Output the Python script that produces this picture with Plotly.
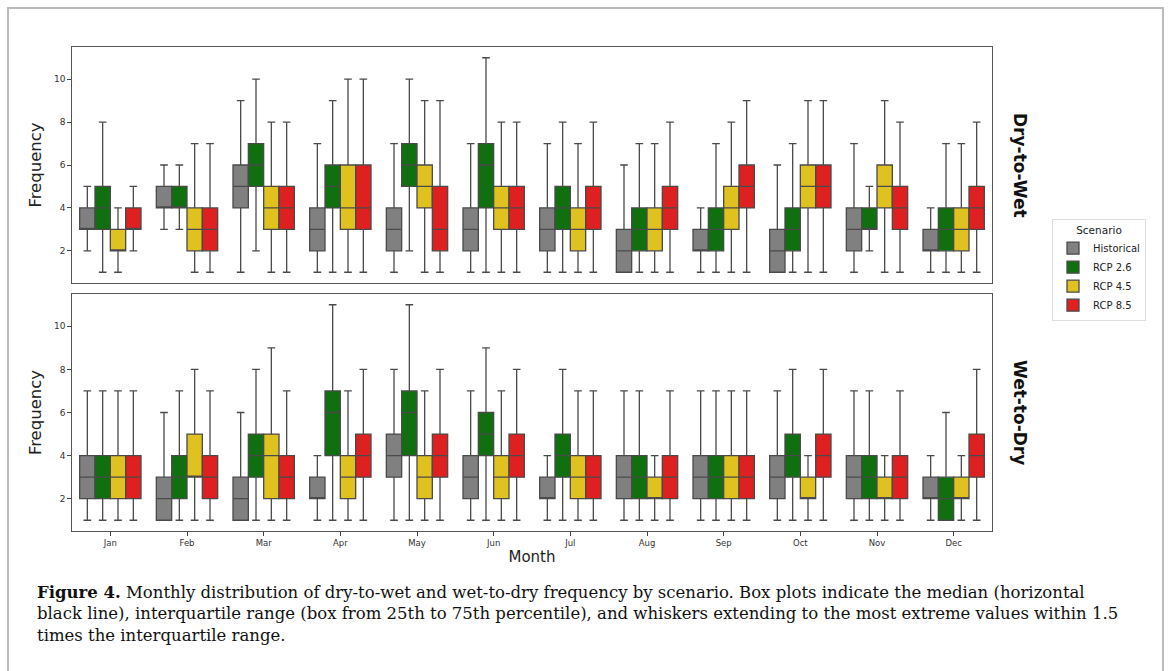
import plotly.graph_objects as go
from plotly.subplots import make_subplots

months = ["Jan", "Feb", "Mar", "Apr", "May", "Jun", "Jul", "Aug", "Sep", "Oct", "Nov", "Dec"]
scenarios = ["Historical", "RCP 2.6", "RCP 4.5", "RCP 8.5"]
colors = ["#808080", "#107010", "#dfc120", "#df2020"]

# five-number summaries per month: (lower whisker, q1, median, q3, upper whisker)
dw_historical = [(2,3,3,4,5),(3,4,4,5,6),(1,4,5,6,9),(1,2,3,4,7),(1,2,3,4,7),(1,2,3,4,7),
                 (1,2,3,4,7),(1,1,2,3,6),(1,2,2,3,4),(1,1,2,3,6),(1,2,3,4,7),(1,2,2,3,4)]
dw_rcp26 = [(1,3,4,5,8),(3,4,4,5,6),(2,5,6,7,10),(1,4,5,6,9),(2,5,6,7,10),(1,4,6,7,11),
            (1,3,4,5,8),(1,2,3,4,7),(1,2,3,4,7),(1,2,3,4,7),(2,3,3,4,5),(1,2,3,4,7)]
dw_rcp45 = [(1,2,2,3,4),(1,2,3,4,7),(1,3,4,5,8),(1,3,4,6,10),(1,4,5,6,9),(1,3,4,5,8),
            (1,2,3,4,7),(1,2,3,4,7),(1,3,4,5,8),(1,4,5,6,9),(1,4,5,6,9),(1,2,3,4,7)]
dw_rcp85 = [(2,3,3,4,5),(1,2,3,4,7),(1,3,4,5,8),(1,3,4,6,10),(1,2,3,5,9),(1,3,4,5,8),
            (1,3,4,5,8),(1,3,4,5,8),(1,4,5,6,9),(1,4,5,6,9),(1,3,4,5,8),(1,3,4,5,8)]

wd_historical = [(1,2,3,4,7),(1,1,2,3,6),(1,1,2,3,6),(1,2,2,3,4),(1,3,4,5,8),(1,2,3,4,7),
                 (1,2,2,3,4),(1,2,3,4,7),(1,2,3,4,7),(1,2,3,4,7),(1,2,3,4,7),(1,2,2,3,4)]
wd_rcp26 = [(1,2,3,4,7),(1,2,3,4,7),(1,3,4,5,8),(1,4,6,7,11),(1,4,6,7,11),(1,4,5,6,9),
            (1,3,4,5,8),(1,2,3,4,7),(1,2,3,4,7),(1,3,4,5,8),(1,2,3,4,7),(1,1,2,3,6)]
wd_rcp45 = [(1,2,3,4,7),(1,3,3,5,8),(1,2,4,5,9),(1,2,3,4,7),(1,2,3,4,7),(1,2,3,4,7),
            (1,2,3,4,7),(1,2,2,3,4),(1,2,3,4,7),(1,2,2,3,4),(1,2,2,3,4),(1,2,2,3,4)]
wd_rcp85 = [(1,2,3,4,7),(1,2,3,4,7),(1,2,3,4,7),(1,3,4,5,8),(1,3,4,5,8),(1,3,4,5,8),
            (1,2,3,4,7),(1,2,3,4,7),(1,2,3,4,7),(1,3,4,5,8),(1,2,3,4,7),(1,3,4,5,8)]

panel_labels = ["Dry-to-Wet", "Wet-to-Dry"]
y_ticks = [2, 4, 6, 8, 10]
caption_lines = [
    "<b>Figure 4.</b> Monthly distribution of dry-to-wet and wet-to-dry frequency by scenario. Box plots indicate the median (horizontal",
    "black line), interquartile range (box from 25th to 75th percentile), and whiskers extending to the most extreme values within 1.5",
    "times the interquartile range.",
]

panels = [[dw_historical, dw_rcp26, dw_rcp45, dw_rcp85],
          [wd_historical, wd_rcp26, wd_rcp45, wd_rcp85]]

W, H = 1168, 671
L, R, T, B = 72, 992, 47, 531
fig = make_subplots(rows=2, cols=1, shared_xaxes=False, vertical_spacing=0.0)

for p, data in enumerate(panels):
    for s, (name, col, stats) in enumerate(zip(scenarios, colors, data)):
        fig.add_trace(go.Box(
            x=months,
            lowerfence=[v[0] for v in stats],
            q1=[v[1] for v in stats],
            median=[v[2] for v in stats],
            q3=[v[3] for v in stats],
            upperfence=[v[4] for v in stats],
            name=name, legendgroup=name, showlegend=(p == 0),
            alignmentgroup="panel%d" % p, offsetgroup=name,
            fillcolor=col, line=dict(color="#4a4a4a", width=1.3),
            boxpoints=False, whiskerwidth=0.5,
        ), row=p + 1, col=1)

def py(v):
    return (B - v) / (B - T)

def px(v):
    return (v - L) / (R - L)

fig.update_layout(
    width=W, height=H,
    margin=dict(l=L, r=W - R, t=T, b=H - B),
    paper_bgcolor="white", plot_bgcolor="white",
    boxmode="group", boxgap=0.2, boxgroupgap=0,
    font=dict(family="DejaVu Sans", color="#222"),
    legend=dict(
        title=dict(text="Scenario", side="top center", font=dict(size=10.5, color="#222")),
        x=px(1052), y=py(219), xanchor="left", yanchor="top",
        bgcolor="white", bordercolor="#dddddd", borderwidth=1,
        font=dict(size=10, color="#222"), tracegroupgap=0, itemwidth=30,
    ),
)

top_dom = [py(283), 1.0]
bot_dom = [0.0, py(294)]
fig.update_yaxes(range=[0.5, 11.5], tickvals=y_ticks, ticks="outside", ticklen=3.5,
                 tickcolor="#444", tickfont=dict(size=9, color="#333"),
                 showgrid=False, zeroline=False, showline=True, mirror=True,
                 linecolor="#555", linewidth=1.3,
                 title=dict(text="Frequency", font=dict(size=16.5, color="#222"), standoff=8))
fig.update_yaxes(domain=top_dom, row=1, col=1)
fig.update_yaxes(domain=bot_dom, row=2, col=1)
fig.update_xaxes(range=[-0.5, 11.5], categoryorder="array", categoryarray=months,
                 showgrid=False, zeroline=False, showline=True, mirror=True,
                 linecolor="#555", linewidth=1.3)
fig.update_xaxes(showticklabels=False, ticks="", row=1, col=1)
fig.update_xaxes(ticks="outside", ticklen=3.5, tickcolor="#444",
                 tickfont=dict(size=8.5, color="#333"),
                 title=dict(text="Month", font=dict(size=15, color="#222"), standoff=4),
                 row=2, col=1)

# facet row labels
for lab, yc in zip(panel_labels, [165, 412]):
    fig.add_annotation(text="<b>" + lab + "</b>", xref="paper", yref="paper",
                       x=px(1020), y=py(yc), showarrow=False, textangle=90,
                       font=dict(size=17, color="#111"), xanchor="center", yanchor="middle")

# caption
for line, yc in zip(caption_lines, [592, 613.5, 635]):
    fig.add_annotation(text=line, xref="paper", yref="paper", x=px(35), y=py(yc),
                       showarrow=False, xanchor="left", yanchor="middle",
                       font=dict(family="DejaVu Serif", size=16.5, color="#111"))

# outer frame of the figure card
fig.add_shape(type="rect", xref="paper", yref="paper",
              x0=px(8), x1=px(1163), y0=py(700), y1=py(8),
              line=dict(color="#bbbbbb", width=2), fillcolor="rgba(0,0,0,0)", layer="below")

fig.write_html("out.html")
